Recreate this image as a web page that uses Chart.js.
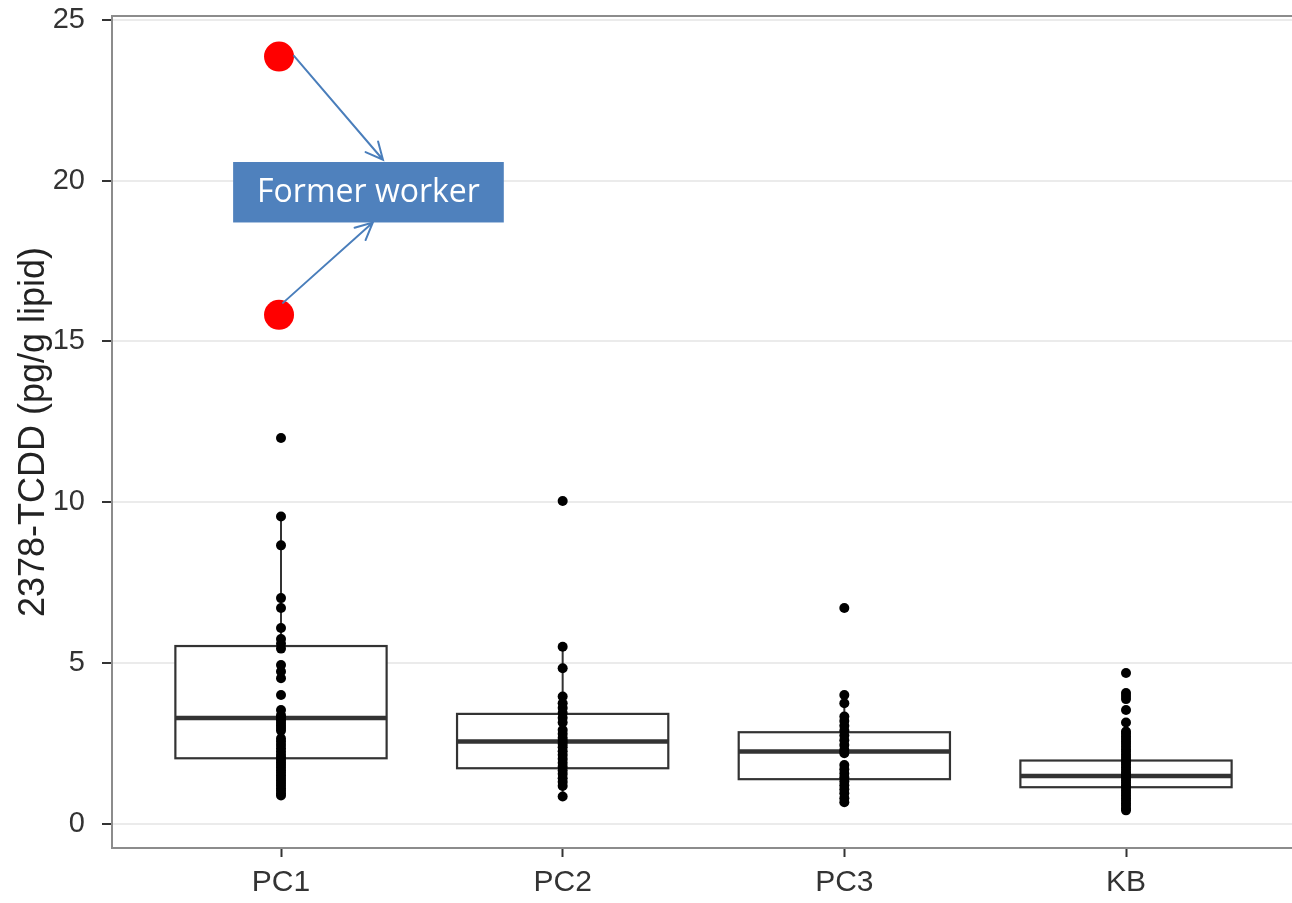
<!DOCTYPE html>
<html>
<head>
<meta charset="utf-8">
<script src="https://cdn.jsdelivr.net/npm/chart.js@4.4.1/dist/chart.umd.min.js"></script>
<style>
  html, body { margin: 0; padding: 0; background: #ffffff; overflow: hidden; }
  #wrap { width: 1310px; height: 903px; }
</style>
</head>
<body>
<div id="wrap"><canvas id="chart" width="1310" height="903"></canvas></div>
<script>
// Groups along the x axis
const categories = ['PC1', 'PC2', 'PC3', 'KB'];
const yTicks = [0, 5, 10, 15, 20, 25];

// Individual 2378-TCDD measurements (pg/g lipid) per group
const pc1Values = [12.0, 9.56, 8.66, 7.02, 6.71, 6.09, 5.75, 5.6, 5.45, 4.94, 4.74, 4.53, 4.01, 3.54,
  3.38, 3.3, 3.22, 3.14, 3.06, 2.98, 2.9, 2.65, 2.55, 2.45, 2.35, 2.25, 2.15, 2.07, 1.99, 1.91,
  1.83, 1.75, 1.67, 1.59, 1.51, 1.43, 1.35, 1.27, 1.19, 1.11, 1.03, 0.95, 0.88];
const pc2Values = [10.04, 5.51, 4.84, 3.96, 3.75, 3.6, 3.45, 3.3, 3.15, 2.92, 2.8, 2.68, 2.58, 2.48,
  2.38, 2.26, 2.14, 2.02, 1.9, 1.78, 1.66, 1.55, 1.42, 1.3, 1.18, 0.85];
const pc3Values = [6.71, 4.01, 3.75, 3.34, 3.2, 3.05, 2.9, 2.75, 2.6, 2.45, 2.3, 2.2, 1.83, 1.7,
  1.57, 1.45, 1.32, 1.2, 1.08, 0.95, 0.8, 0.67];
const kbValues = [4.69, 4.07, 3.98, 3.88, 3.54, 3.15, 2.87, 2.8, 2.72, 2.64, 2.56, 2.48, 2.4, 2.32,
  2.24, 2.16, 2.08, 2.0, 1.92, 1.84, 1.76, 1.68, 1.6, 1.52, 1.44, 1.36, 1.28, 1.2, 1.12, 1.04,
  0.96, 0.88, 0.8, 0.72, 0.64, 0.56, 0.48, 0.42];
const groupValues = [pc1Values, pc2Values, pc3Values, kbValues];

// Box plot summaries per group
const whiskerLow = [0.88, 0.85, 0.67, 0.42];
const boxQ1 = [2.04, 1.73, 1.39, 1.14];
const boxMedian = [3.29, 2.56, 2.25, 1.49];
const boxQ3 = [5.53, 3.42, 2.85, 1.97];
const whiskerHigh = [9.56, 5.51, 4.01, 3.15];

// Two former workers highlighted in the PC1 group
const formerWorkerX = [0.993, 0.993];
const formerWorkerY = [23.86, 15.83];

// Callout placement, in axis units
const callout = {
  text: 'Former worker',
  x0: 0.830, x1: 1.791, y0: 18.70, y1: 20.58,
  arrows: [
    { from: [1.046, 23.88], to: [1.362, 20.65] },
    { from: [1.007, 16.20], to: [1.326, 18.70] }
  ]
};

const BOX_HALF = 0.375;
const AXIS_FONT = 'Liberation Sans, Arial, sans-serif';

const boxPlotPlugin = {
  id: 'boxPlot',
  beforeDatasetsDraw(chart) {
    const { ctx } = chart;
    const xs = chart.scales.x, ys = chart.scales.y;
    ctx.save();
    ctx.strokeStyle = '#333333';
    ctx.lineCap = 'butt';
    categories.forEach((_, i) => {
      const xc = xs.getPixelForValue(i + 1);
      const xl = xs.getPixelForValue(i + 1 - BOX_HALF);
      const xr = xs.getPixelForValue(i + 1 + BOX_HALF);
      const yLo = ys.getPixelForValue(whiskerLow[i]);
      const yQ1 = ys.getPixelForValue(boxQ1[i]);
      const yMed = ys.getPixelForValue(boxMedian[i]);
      const yQ3 = ys.getPixelForValue(boxQ3[i]);
      const yHi = ys.getPixelForValue(whiskerHigh[i]);
      // whiskers
      ctx.lineWidth = 2;
      ctx.beginPath();
      ctx.moveTo(xc, yQ3); ctx.lineTo(xc, yHi);
      ctx.moveTo(xc, yQ1); ctx.lineTo(xc, yLo);
      ctx.stroke();
      // box
      ctx.fillStyle = '#ffffff';
      ctx.fillRect(xl, yQ3, xr - xl, yQ1 - yQ3);
      ctx.lineWidth = 2.2;
      ctx.strokeRect(xl, yQ3, xr - xl, yQ1 - yQ3);
      // median
      ctx.lineWidth = 4.5;
      ctx.beginPath();
      ctx.moveTo(xl, yMed); ctx.lineTo(xr, yMed);
      ctx.stroke();
    });
    ctx.restore();
  },
  afterDatasetsDraw(chart) {
    const { ctx, chartArea } = chart;
    const xs = chart.scales.x, ys = chart.scales.y;
    ctx.save();
    // callout arrows
    ctx.strokeStyle = '#4A7EBB';
    ctx.lineWidth = 2;
    ctx.lineCap = 'round';
    callout.arrows.forEach(a => {
      const x0 = xs.getPixelForValue(a.from[0]), y0 = ys.getPixelForValue(a.from[1]);
      const x1 = xs.getPixelForValue(a.to[0]), y1 = ys.getPixelForValue(a.to[1]);
      const ang = Math.atan2(y1 - y0, x1 - x0);
      const head = 19, spread = Math.PI / 7;
      ctx.beginPath();
      ctx.moveTo(x0, y0); ctx.lineTo(x1, y1);
      ctx.moveTo(x1 - head * Math.cos(ang - spread), y1 - head * Math.sin(ang - spread));
      ctx.lineTo(x1, y1);
      ctx.lineTo(x1 - head * Math.cos(ang + spread), y1 - head * Math.sin(ang + spread));
      ctx.stroke();
    });
    // callout label box
    const bx0 = xs.getPixelForValue(callout.x0), bx1 = xs.getPixelForValue(callout.x1);
    const by0 = ys.getPixelForValue(callout.y1), by1 = ys.getPixelForValue(callout.y0);
    ctx.fillStyle = '#4F81BD';
    ctx.fillRect(bx0, by0, bx1 - bx0, by1 - by0);
    ctx.fillStyle = '#ffffff';
    ctx.font = '32px "Open Sans", sans-serif';
    ctx.textAlign = 'center';
    ctx.textBaseline = 'middle';
    ctx.fillText(callout.text, (bx0 + bx1) / 2, (by0 + by1) / 2 + 1);
    // panel border
    ctx.strokeStyle = '#8C8C8C';
    ctx.lineWidth = 2;
    ctx.strokeRect(chartArea.left, chartArea.top, chartArea.right - chartArea.left, chartArea.bottom - chartArea.top);
    ctx.restore();
  }
};

const pointDatasets = groupValues.map((vals, i) => ({
  label: categories[i],
  data: vals.map(v => ({ x: i + 1, y: v })),
  pointRadius: 5,
  pointHoverRadius: 5,
  pointBackgroundColor: '#000000',
  pointBorderColor: '#000000',
  pointBorderWidth: 0,
  showLine: false
}));

const formerDataset = {
  label: 'Former worker',
  data: formerWorkerX.map((x, i) => ({ x, y: formerWorkerY[i] })),
  pointRadius: 15,
  pointHoverRadius: 15,
  pointBackgroundColor: '#FF0000',
  pointBorderColor: '#FF0000',
  pointBorderWidth: 0,
  showLine: false
};

new Chart(document.getElementById('chart'), {
  type: 'scatter',
  data: { datasets: [...pointDatasets, formerDataset] },
  options: {
    responsive: false,
    animation: false,
    devicePixelRatio: 1,
    layout: { padding: { left: 0, top: 16, right: 5, bottom: 0 } },
    plugins: { legend: { display: false }, tooltip: { enabled: false } },
    scales: {
      x: {
        type: 'linear',
        min: 0.4,
        max: 4.6,
        afterBuildTicks: s => { s.ticks = categories.map((_, i) => ({ value: i + 1 })); },
        afterFit: s => { s.height = 55; s.paddingLeft = 0; s.paddingRight = 0; },
        ticks: {
          callback: v => categories[Math.round(v) - 1],
          font: { family: AXIS_FONT, size: 30 },
          color: '#333333',
          padding: 8,
          maxRotation: 0,
          autoSkip: false
        },
        grid: { drawOnChartArea: false, drawTicks: true, tickLength: 9, tickColor: '#333333', tickWidth: 2 },
        border: { display: false }
      },
      y: {
        min: -0.75,
        max: 25.12,
        afterBuildTicks: s => { s.ticks = yTicks.map(v => ({ value: v })); },
        afterFit: s => { s.width = 112; s.paddingTop = 0; s.paddingBottom = 0; },
        ticks: {
          font: { family: AXIS_FONT, size: 29 },
          color: '#333333',
          padding: 17
        },
        grid: { color: '#EBEBEB', lineWidth: 2, tickLength: 10, tickColor: '#333333', tickWidth: 2 },
        border: { display: false },
        title: {
          display: true,
          text: '2378-TCDD (pg/g lipid)',
          font: { family: AXIS_FONT, size: 36 },
          color: '#222222',
          padding: { top: 12, bottom: 0 }
        }
      }
    }
  },
  plugins: [boxPlotPlugin]
});
</script>
</body>
</html>
